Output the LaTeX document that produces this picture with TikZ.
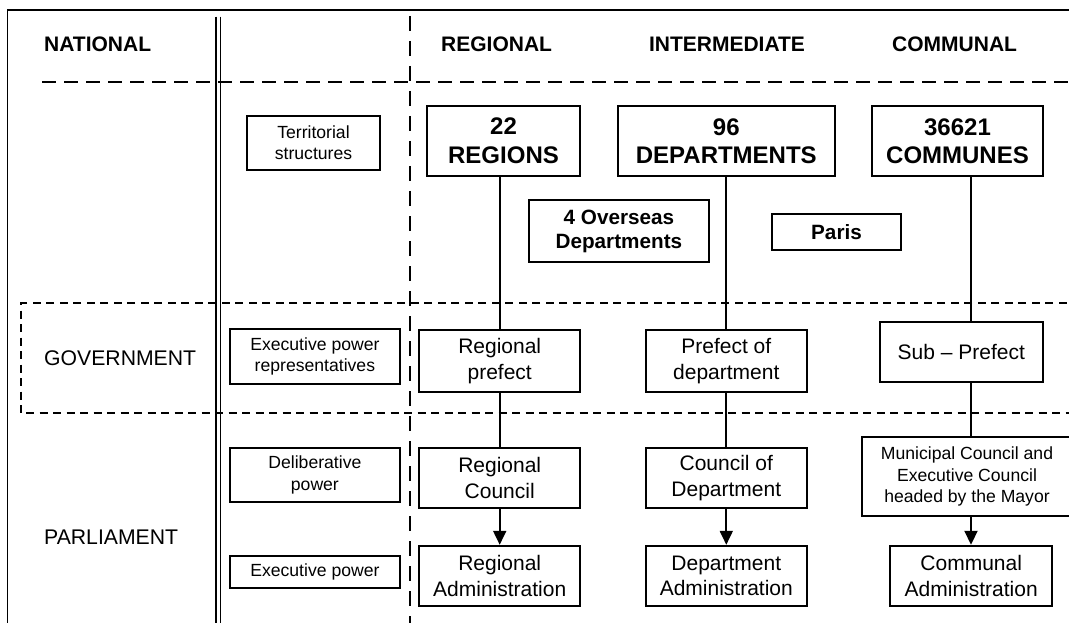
\documentclass[tikz,border=0pt]{standalone}
\usepackage{fontspec}
\setmainfont{Liberation Sans}
\usepackage{xcolor}
\usepackage{tikz}
\usetikzlibrary{calc,arrows.meta}

\tikzset{
  box/.style={draw, line width=1.9pt, align=center, inner sep=0pt, font=\fontsize{21}{25.5}\selectfont},
  smallbox/.style={box, font=\fontsize{17.6}{21.5}\selectfont},
  titlebox/.style={box, font=\bfseries\fontsize{24}{28.4}\selectfont},
  boldbox/.style={box, font=\bfseries\fontsize{20.7}{24.3}\selectfont},
  head/.style={inner sep=0pt, font=\bfseries\fontsize{21}{24}\selectfont},
  side/.style={inner sep=0pt, anchor=west, font=\fontsize{21.2}{25}\selectfont},
  frame/.style={line width=1.9pt},
  sep/.style={line width=1.9pt, dash pattern=on 14pt off 8pt},
  govline/.style={line width=1.9pt, dash pattern=on 8pt off 5.5pt},
  link/.style={line width=1.9pt},
  flow/.style={line width=1.9pt, -{Triangle[width=13pt,length=14pt]}}
}

\begin{document}
\begin{tikzpicture}[x=1pt,y=-1pt]
\useasboundingbox (0,0) rectangle (1069,623);
\draw[frame] (7.5,640) -- (7.5,10) -- (1080,10);
\draw[line width=1.5pt] (216,16.7) -- (216,640);
\draw[line width=1.5pt] (220.5,16.7) -- (220.5,640);
\draw[line width=1.9pt, dash pattern=on 15pt off 10pt] (410,16) -- (410,640);
\draw[sep] (42,82) -- (1080,82);
\draw[govline] (1080,303.3) -- (20.7,303.3) -- (20.7,413) -- (1080,413);

\node[head, anchor=west] (national) at (44,44.7) {NATIONAL};
\node[head] (regional) at (496.6,44.7) {REGIONAL};
\node[head] (intermediate) at (727,44.7) {INTERMEDIATE};
\node[head] (communal) at (954.6,44.7) {COMMUNAL};
\node[side] (government) at (44,358.3) {GOVERNMENT};
\node[side] (parliament) at (44,537.3) {PARLIAMENT};

\node[smallbox, minimum width=133pt, minimum height=54.3pt] (territorial) at (313.5,142.9) {Territorial\\structures};
\node[smallbox, minimum width=170.3pt, minimum height=54.4pt] (execrep) at (314.9,356.5) {Executive power\\representatives};
\node[smallbox, minimum width=170.3pt, minimum height=54.3pt] (deliberative) at (314.9,474.9) {Deliberative\\power};
\node[smallbox, minimum width=170.3pt, minimum height=31.7pt] (execpower) at (314.9,571.9) {Executive power};

\node[titlebox, minimum width=153pt, minimum height=70.3pt] (regions) at (503.5,140.9) {22\\REGIONS};
\node[titlebox, minimum width=217pt, minimum height=70pt] (departments) at (726.3,141) {96\\DEPARTMENTS};
\node[titlebox, minimum width=171pt, minimum height=70pt] (communes) at (957.5,141) {36621\\COMMUNES};
\node[boldbox, minimum width=179.7pt, minimum height=62.3pt] (overseas) at (618.9,231.2) {4 Overseas\\Departments};
\node[boldbox, minimum width=129pt, minimum height=36.3pt] (paris) at (836.5,231.9) {Paris};

\node[box, minimum width=160.6pt, minimum height=62pt] (regprefect) at (499.7,361) {Regional\\prefect};
\node[box, minimum width=160.5pt, minimum height=62pt] (depprefect) at (726.3,361) {Prefect of\\department};
\node[box, minimum width=162.5pt, minimum height=60pt] (subprefect) at (961.3,352) {Sub – Prefect};

\node[box, minimum width=160.6pt, minimum height=60.3pt] (regcouncil) at (499.7,477.9) {Regional\\Council};
\node[box, minimum width=160.5pt, minimum height=60.3pt] (depcouncil) at (726.3,477.9) {Council of\\Department};
\node[smallbox, minimum width=210pt, minimum height=79pt] (municipal) at (967,476.5) {Municipal Council and\\Executive Council\\headed by the Mayor};

\node[box, minimum width=160.6pt, minimum height=60.3pt] (regadmin) at (499.7,575.9) {Regional\\Administration};
\node[box, minimum width=160.5pt, minimum height=60.3pt] (depadmin) at (726.3,575.9) {Department\\Administration};
\node[box, minimum width=162.3pt, minimum height=60.3pt] (comadmin) at (971.2,575.9) {Communal\\Administration};

\coordinate (comline) at (971,0);

\draw[link] (regions.south -| regprefect) -- (regprefect);
\draw[link] (regprefect) -- (regcouncil);
\draw[flow] (regcouncil) -- (regadmin);

\draw[link] (departments) -- (depprefect);
\draw[link] (depprefect) -- (depcouncil);
\draw[flow] (depcouncil) -- (depadmin);

\draw[link] (communes.south -| comline) -- (subprefect.north -| comline);
\draw[link] (subprefect.south -| comline) -- (municipal.north -| comline);
\draw[flow] (municipal.south -| comline) -- (comadmin.north -| comline);
\end{tikzpicture}
\end{document}
